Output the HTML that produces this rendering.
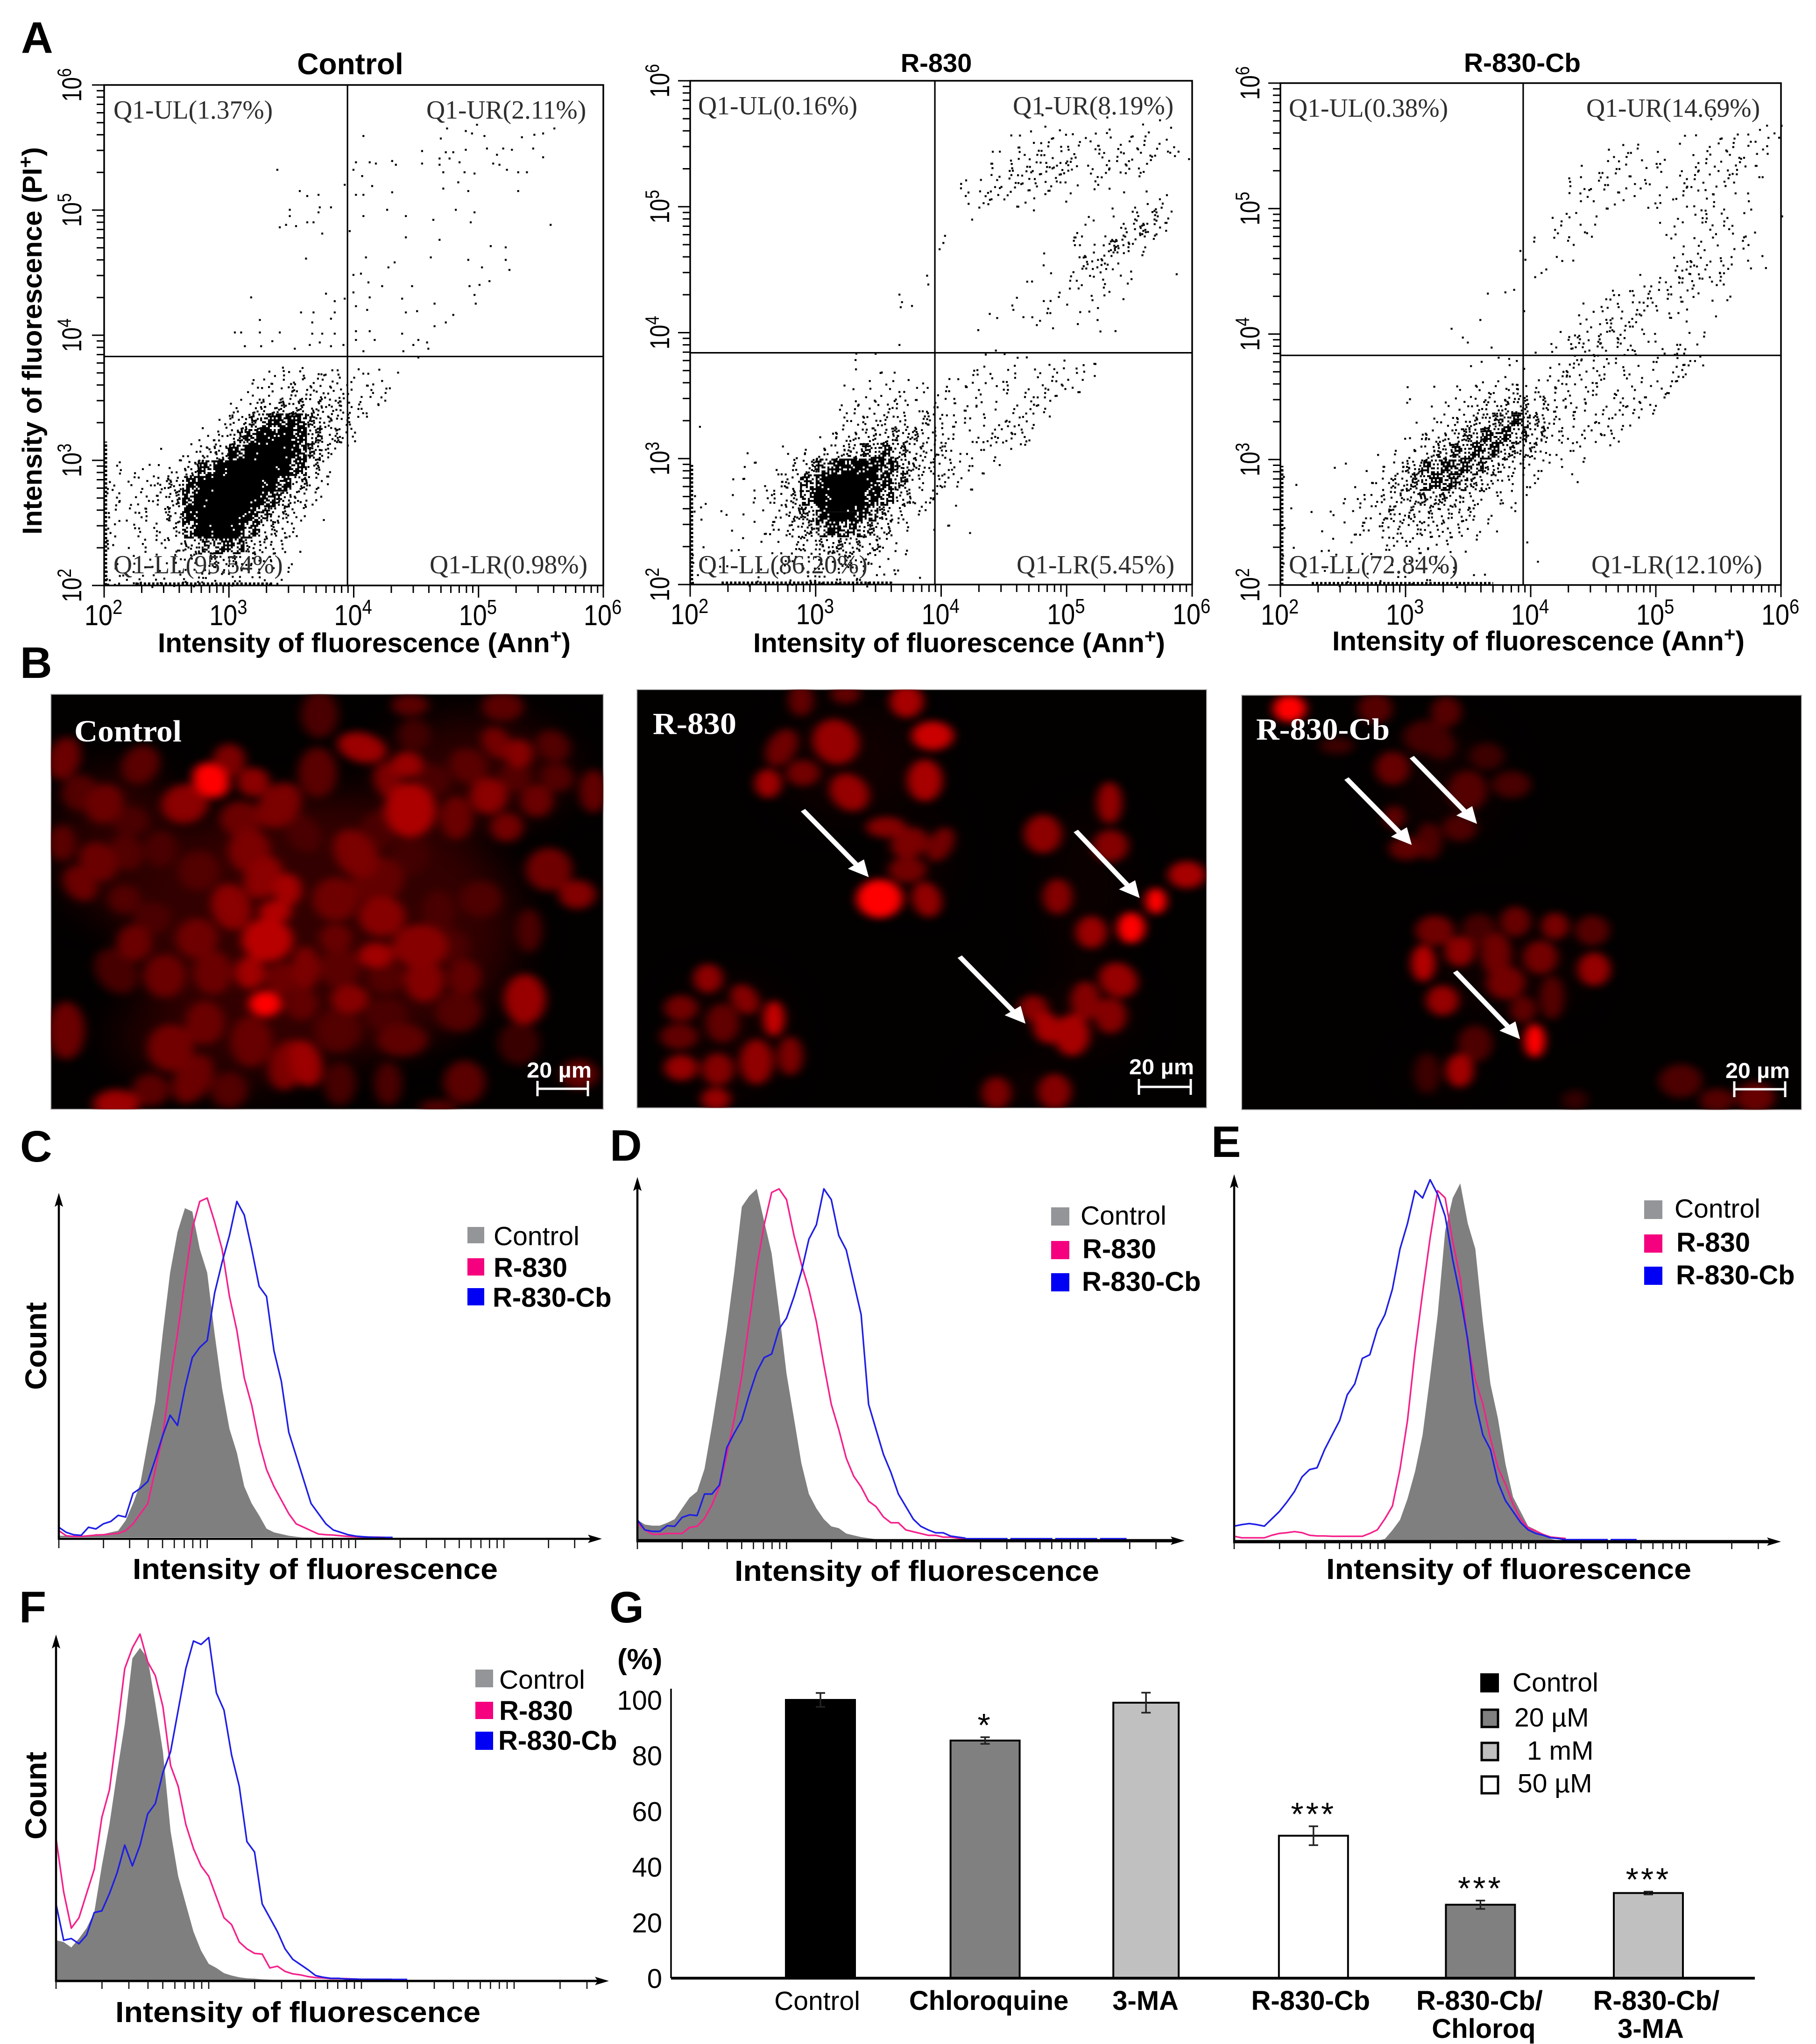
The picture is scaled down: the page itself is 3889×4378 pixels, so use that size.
<!DOCTYPE html>
<html lang="en">
<head>
<meta charset="utf-8">
<title>Flow cytometry and viability figure</title>
<style>
html,body{margin:0;padding:0;background:#fff}
svg{display:block}
text{font-family:"Liberation Sans",Arial,sans-serif}
.pl{font-size:95px;font-weight:700}
.b{font-weight:700}
.q{font-family:"Liberation Serif",serif;font-size:55.6px;fill:#2e2e2e}
.at{font-size:58px;font-weight:700}
.ht{font-size:62px;font-weight:700}
.lg{font-size:57px}
.lgb{font-size:58px;font-weight:700}
.imgl{font-family:"Liberation Serif",serif;font-weight:700;font-size:66px;fill:#fff}
.sb{font-size:46px;font-weight:700;fill:#fff}
</style>
</head>
<body>
<svg id="fig" xmlns="http://www.w3.org/2000/svg" width="3889" height="4378" viewBox="0 0 3889 4378">
<defs>
<filter id="cellBlur" x="-10%" y="-10%" width="120%" height="120%" color-interpolation-filters="sRGB"><feGaussianBlur stdDeviation="13"/></filter>
<filter id="hazeBlur" x="-60%" y="-60%" width="220%" height="220%" color-interpolation-filters="sRGB"><feGaussianBlur stdDeviation="55"/></filter>
</defs>
<rect width="3889" height="4378" fill="#fff"/>

<text class="pl" x="45" y="113">A</text>
<text class="pl" x="43" y="1452">B</text>
<text class="pl" x="43" y="2488">C</text>
<text class="pl" x="1306" y="2486">D</text>
<text class="pl" x="2594" y="2478">E</text>
<text class="pl" x="41" y="3475">F</text>
<text class="pl" x="1305" y="3475">G</text>

<g id="scatterLayer"></g>

<text class="b" x="750" y="159" font-size="64" text-anchor="middle">Control</text>
<text class="b" x="2005" y="154" font-size="56" text-anchor="middle">R-830</text>
<text class="b" x="3260" y="154" font-size="57" text-anchor="middle">R-830-Cb</text>

<text class="q" x="243" y="254">Q1-UL(1.37%)</text>
<text class="q" x="913" y="254">Q1-UR(2.11%)</text>
<text class="q" x="243" y="1228">Q1-LL(95.54%)</text>
<text class="q" x="920" y="1228">Q1-LR(0.98%)</text>
<text class="q" x="1495" y="245">Q1-UL(0.16%)</text>
<text class="q" x="2169" y="245">Q1-UR(8.19%)</text>
<text class="q" x="1495" y="1228">Q1-LL(86.20%)</text>
<text class="q" x="2177" y="1228">Q1-LR(5.45%)</text>
<text class="q" x="2760" y="250">Q1-UL(0.38%)</text>
<text class="q" x="3397" y="250">Q1-UR(14.69%)</text>
<text class="q" x="2760" y="1228">Q1-LL(72.84%)</text>
<text class="q" x="3408" y="1228">Q1-LR(12.10%)</text>

<text class="at" x="338" y="1397" textLength="884" lengthAdjust="spacingAndGlyphs">Intensity of fluorescence (Ann<tspan dy="-20" font-size="42">+</tspan><tspan dy="20">)</tspan></text>
<text class="at" x="1613" y="1397" textLength="882" lengthAdjust="spacingAndGlyphs">Intensity of fluorescence (Ann<tspan dy="-20" font-size="42">+</tspan><tspan dy="20">)</tspan></text>
<text class="at" x="2853" y="1393" textLength="883" lengthAdjust="spacingAndGlyphs">Intensity of fluorescence (Ann<tspan dy="-20" font-size="42">+</tspan><tspan dy="20">)</tspan></text>
<text class="at" transform="translate(89,1145) rotate(-90)" textLength="830" lengthAdjust="spacingAndGlyphs">Intensity of fluorescence (PI<tspan dy="-20" font-size="42">+</tspan><tspan dy="20">)</tspan></text>

<g id="microLayer"></g>
<text class="imgl" x="159" y="1588" textLength="230" lengthAdjust="spacingAndGlyphs">Control</text>
<text class="imgl" x="1398" y="1572" textLength="179" lengthAdjust="spacingAndGlyphs">R-830</text>
<text class="imgl" x="2690" y="1584" textLength="286" lengthAdjust="spacingAndGlyphs">R-830-Cb</text>
<text class="sb" x="1128" y="2308" textLength="139" lengthAdjust="spacingAndGlyphs">20 µm</text>
<text class="sb" x="2418" y="2301" textLength="139" lengthAdjust="spacingAndGlyphs">20 µm</text>
<text class="sb" x="3695" y="2309" textLength="138" lengthAdjust="spacingAndGlyphs">20 µm</text>
<path d="M1151 2315V2348M1151 2332H1259M1259 2315V2348" stroke="#fff" stroke-width="5" fill="none"/>
<path d="M2439 2311V2345M2439 2328H2550M2550 2311V2345" stroke="#fff" stroke-width="5" fill="none"/>
<path d="M3714 2316V2350M3714 2333H3823M3823 2316V2350" stroke="#fff" stroke-width="5" fill="none"/>

<g id="histLayer"></g>

<text class="ht" x="284" y="3382" textLength="782" lengthAdjust="spacingAndGlyphs">Intensity of fluorescence</text>
<text class="ht" x="1573" y="3386" textLength="781" lengthAdjust="spacingAndGlyphs">Intensity of fluorescence</text>
<text class="ht" x="2840" y="3382" textLength="782" lengthAdjust="spacingAndGlyphs">Intensity of fluorescence</text>
<text class="ht" x="247" y="4331" textLength="782" lengthAdjust="spacingAndGlyphs">Intensity of fluorescence</text>
<text class="b" font-size="64" transform="translate(99,2977) rotate(-90)" textLength="188" lengthAdjust="spacingAndGlyphs">Count</text>
<text class="b" font-size="64" transform="translate(99,3940) rotate(-90)" textLength="188" lengthAdjust="spacingAndGlyphs">Count</text>

<rect x="1001" y="2628" width="36" height="35" fill="#939598"/>
<text class="lg" x="1057" y="2667">Control</text>
<rect x="1001" y="2695" width="36" height="37" fill="#f5007e"/>
<text class="lgb" x="1057" y="2735">R-830</text>
<rect x="1001" y="2759" width="36" height="37" fill="#0000f5"/>
<text class="lgb" x="1055" y="2799">R-830-Cb</text>

<rect x="2251" y="2586" width="39" height="39" fill="#939598"/>
<text class="lg" x="2314" y="2623">Control</text>
<rect x="2251" y="2658" width="39" height="39" fill="#f5007e"/>
<text class="lgb" x="2318" y="2695">R-830</text>
<rect x="2251" y="2727" width="39" height="39" fill="#0000f5"/>
<text class="lgb" x="2317" y="2765">R-830-Cb</text>

<rect x="3521" y="2571" width="39" height="40" fill="#939598"/>
<text class="lg" x="3586" y="2608">Control</text>
<rect x="3521" y="2644" width="39" height="39" fill="#f5007e"/>
<text class="lgb" x="3590" y="2681">R-830</text>
<rect x="3521" y="2713" width="39" height="39" fill="#0000f5"/>
<text class="lgb" x="3589" y="2751">R-830-Cb</text>

<rect x="1018" y="3576" width="38" height="38" fill="#939598"/>
<text class="lg" x="1069" y="3617">Control</text>
<rect x="1018" y="3645" width="38" height="37" fill="#f5007e"/>
<text class="lgb" x="1069" y="3684">R-830</text>
<rect x="1018" y="3709" width="38" height="39" fill="#0000f5"/>
<text class="lgb" x="1067" y="3748">R-830-Cb</text>

<g id="barLayer"></g>
<text class="b" x="1322" y="3575" font-size="62">(%)</text>

<rect x="3170" y="3584" width="40" height="41" fill="#000"/>
<text class="lg" x="3239" y="3623">Control</text>
<rect x="3173" y="3662" width="35" height="37" fill="#808080" stroke="#000" stroke-width="5"/>
<text class="lg" x="3243" y="3698">20 µM</text>
<rect x="3173" y="3733" width="35" height="37" fill="#c0c0c0" stroke="#000" stroke-width="5"/>
<text class="lg" x="3270" y="3769">1 mM</text>
<rect x="3173" y="3805" width="35" height="36" fill="#fff" stroke="#000" stroke-width="5"/>
<text class="lg" x="3250" y="3839">50 µM</text>
</svg>

<script>
// ---------- Panel A data: log10 decades on both axes ----------
const decadeExponents = [2, 3, 4, 5, 6];
const minorMantissas = [2, 3, 4, 5, 6, 7, 8, 9];

const controlGate = [3.95, 3.83];
const r830Gate = [3.95, 3.84];
const r830CbGate = [3.94, 3.83];

// Events piled on the axes: [top of left-edge run in log PI, end of bottom-edge run in log Ann]
const controlEdgeRuns = [3.15, 3.35];
const r830EdgeRuns = [2.95, 3.6];
const r830CbEdgeRuns = [2.95, 3.7];

// Isolated events, [log Ann, log PI]
const controlPoints = [[3.38,5.33],[3.56,5.16],[3.62,5.12],[3.71,5.13],[3.48,5.01],[3.48,4.96],[3.40,4.87],[3.45,4.89],[3.53,4.88],[3.62,4.91],[3.67,4.91],[3.71,4.99],[3.72,5.03],[3.81,5.03],[3.74,4.82],[3.61,4.62],[3.17,4.31],[3.24,4.13],[3.04,4.03],[3.09,4.03],[3.24,4.03],[3.40,4.03],[3.34,3.96],[3.12,3.92],[3.57,4.19],[3.67,4.19],[3.66,4.11],[3.81,4.14],[3.84,4.19],[3.77,4.34],[3.84,4.28],[3.92,4.30],[3.74,4.02],[3.66,4.02],[3.84,4.02],[3.64,3.93],[3.72,3.95],[3.81,3.92],[3.91,3.93],[3.52,3.90],[3.25,3.92],[3.92,5.21],[4.07,5.6],[4.01,5.39],[4.12,5.39],[4.17,5.38],[4.30,5.40],[4.33,5.37],[3.99,5.33],[4.06,5.28],[4.14,5.2],[4.01,5.13],[4.07,5.13],[4.30,5.15],[4.07,4.96],[4.26,5.01],[4.41,4.96],[4.63,4.93],[3.96,4.84],[4.41,4.79],[4.68,4.77],[4.09,4.63],[4.32,4.59],[4.27,4.55],[4.61,4.63],[3.99,4.49],[4.05,4.5],[4.11,4.43],[4.22,4.4],[3.99,4.35],[4.12,4.31],[4.46,4.4],[4.38,4.3],[4.01,4.24],[4.10,4.21],[4.41,4.19],[4.5,4.2],[4.64,4.26],[4.79,4.17],[4.64,4.08],[4.73,4.11],[4.01,4.04],[4.12,4.04],[4.38,4.02],[4.01,3.97],[4.16,3.97],[4.51,3.97],[4.47,3.93],[4.58,3.95],[4.59,3.9],[4.39,3.88],[4.51,3.83],[4.07,3.88],[4.54,5.48],[4.54,5.38],[4.68,5.42],[4.68,5.37],[4.73,5.47],[4.79,5.47],[4.84,5.39],[4.89,5.49],[4.76,5.42],[4.88,5.31],[4.71,5.31],[4.96,5.3],[4.71,5.18],[4.83,5.23],[4.91,5.16],[4.69,5.58],[4.74,5.66],[4.89,5.64],[4.94,5.62],[4.98,5.69],[5.04,5.6],[5.06,5.5],[5.14,5.45],[5.19,5.5],[5.11,5.38],[5.16,5.37],[5.22,5.33],[5.26,5.49],[5.34,5.59],[5.44,5.61],[5.51,5.62],[5.6,5.66],[5.43,5.5],[5.31,5.31],[5.38,5.31],[5.51,5.43],[5.31,5.16],[4.81,5.01],[4.96,4.99],[4.93,4.91],[5.57,4.89],[5.09,4.72],[5.21,4.71],[4.91,4.61],[5.02,4.55],[5.21,4.61],[5.24,4.53],[5.08,4.44],[5.0,4.41],[4.92,4.4],[4.96,4.33],[4.97,4.26]];
const r830Points = [[4.01,4.72],[3.98,4.67],[3.88,4.46],[3.89,4.39],[3.66,4.31],[3.68,4.25],[3.67,4.21],[3.76,4.22],[3.66,3.91],[3.31,3.79],[3.47,3.84],[2.07,3.26],[2.45,3.05]];
const r830CbPoints = [[3.91,4.67],[3.95,4.6],[3.79,4.34],[3.86,4.36],[3.65,4.33],[3.94,4.19],[3.59,4.12],[3.36,4.05],[3.45,3.98],[3.49,3.94],[3.68,3.9],[3.82,3.81]];

// Event counts per 0.125 x 0.125 decade bin for the dense populations (rows run top to bottom)
const controlCoreBins = [
[0,0,0,0,0,0,0,0,0,2,4,5,6,6,5,3,3,3,1],
[0,0,0,0,0,0,0,0,1,3,5,7,8,8,8,6,5,4,1],
[0,0,0,0,0,0,0,1,4,8,12,18,18,14,10,8,6,3],
[0,0,0,0,0,0,1,3,10,24,38,48,46,24,14,9,2],
[0,0,0,0,0,1,3,8,24,44,58,60,50,26,12,8],
[0,0,0,1,2,4,10,22,46,62,64,62,48,26,6],
[4,1,2,3,3,16,38,58,64,64,64,60,40,12,3],
[5,3,5,8,16,42,60,64,64,64,60,44,20,6,1],
[5,3,4,6,16,46,62,64,64,62,46,26,10,3],
[5,2,6,5,14,52,64,64,62,48,28,14,4,1],
[4,2,4,5,8,36,60,64,58,32,14,6,2],
[4,2,3,4,5,14,28,38,36,16,8,4,1],
[3,1,2,2,3,6,8,14,14,8,5,2],
[6,4,5,5,5,5,5,5,5,5,3,2]];
const r830CoreBins = [
[0,0,0,0,0,0,0,0,0,0,1,0,0,0,0,0,0,0,1,2,2,1,1,1,0,2],
[0,0,0,0,0,0,0,0,0,0,1,2,2,1,0,0,2,2,3,3,3,2,2,3,5,2],
[0,0,0,0,0,0,0,0,0,1,1,1,4,3,4,1,3,4,4,2,4,3,6,6,3,0],
[0,0,0,0,0,0,0,0,0,3,4,5,5,5,4,4,4,3,3,2,2,6,5,0,0,0],
[0,0,0,0,0,0,0,0,0,3,6,6,8,8,6,10,5,3,3,3,7,5,1,0,0,0],
[0,0,0,0,0,0,0,0,2,6,10,12,14,15,14,8,5,2,4,7,7,5,0,0,0,0],
[0,0,0,0,0,1,2,3,8,12,18,28,36,22,12,8,6,3,3,2,1,0,0,0,0,0],
[0,0,0,1,2,3,8,18,32,50,56,54,44,26,12,8,7,4,2,1,0,0,0,0,0,0],
[0,0,1,2,3,6,10,32,56,64,64,58,42,26,6,6,5,3,0,0,0,0,0,0,0,0],
[3,0,1,1,3,6,14,34,60,64,64,50,34,16,4,5,1,0,0,0,0,0,0,0,0,0],
[2,1,1,1,2,5,14,24,50,64,56,34,20,6,3,0,0,0,0,0,0,0,0,0,0,0],
[0,0,1,1,2,4,10,18,34,42,32,24,10,3,0,1,2,1,0,0,0,0,0,0,0,0],
[2,0,1,1,1,3,6,8,14,22,16,12,5,2,0,0,0,0,0,0,0,0,0,0,0,0],
[2,1,1,0,1,2,4,6,8,12,10,5,3,0,0,0,0,0,0,0,0,0,0,0,0,0],
[2,0,0,1,2,2,3,4,5,5,5,3,2,2,1,0,0,0,0,0,0,0,0,0,0,0]];
const r830UpperBins = [
[0,0,0,0,0,0,2,0,0,0,1,0,1,1,1,0],
[0,0,0,0,2,2,3,3,3,4,3,3,3,2,1,0],
[0,0,0,2,4,3,5,5,4,3,4,5,5,5,5,1],
[0,0,0,4,7,7,8,8,5,4,5,6,4,1,0,0],
[0,3,2,6,6,6,5,4,2,3,1,0,0,1,0,0],
[0,3,6,3,3,2,1,1,0,0,0,1,2,2,1,0],
[0,1,0,0,0,1,0,0,0,2,2,1,6,10,4,0],
[1,0,0,0,0,0,0,0,4,1,2,6,14,6,1,0],
[0,0,0,0,0,0,1,0,3,3,10,14,4,0,0,0],
[0,0,0,0,0,0,1,0,3,10,8,2,0,0,0,0],
[0,0,0,0,0,2,1,0,4,3,3,3,0,0,1,0],
[0,0,0,0,1,0,2,2,2,2,2,1,0,0,0,0],
[0,0,0,1,2,2,3,1,1,2,0,0,0,0,0,0],
[0,0,1,1,0,1,1,1,1,2,1,0,0,0,0,0]];
const r830CbCoreBins = [
[0,0,0,0,0,0,0,0,0,0,0,0,2,1,1,1,1,2,5,6,4,3,3,2,2,6,5],
[0,0,0,0,0,0,0,0,0,0,0,0,0,1,1,1,2,4,6,5,6,4,2,1,2,8,0],
[0,0,0,0,0,0,0,0,1,1,0,2,5,5,6,7,5,5,5,4,3,4,3,3,6,0,0],
[0,0,0,0,0,0,0,0,2,1,2,4,7,8,14,16,10,6,6,4,3,6,6,5,0,0,0],
[0,0,0,0,0,0,0,0,1,2,4,8,14,22,30,30,16,7,3,3,5,4,2,0,0,0,0],
[0,0,0,0,0,0,0,1,3,7,12,20,26,36,34,24,16,6,3,3,6,3,0,0,0,0,0],
[0,0,0,0,0,0,1,2,5,12,20,30,40,36,22,12,8,3,3,2,0,0,0,0,0,0,0],
[0,0,0,1,1,1,3,8,20,32,40,40,30,18,8,5,3,2,1,0,0,0,0,0,0,0,0],
[2,0,0,0,1,2,6,10,24,34,38,28,18,7,5,2,2,0,1,0,0,0,0,0,0,0,0],
[1,0,0,1,3,4,8,10,16,18,20,10,6,4,3,1,0,0,0,0,0,0,0,0,0,0,0],
[0,1,0,2,3,4,8,10,12,10,10,8,4,2,1,0,0,0,0,0,0,0,0,0,0,0,0],
[1,0,1,1,2,4,6,6,8,7,6,5,2,2,0,0,0,0,0,0,0,0,0,0,0,0,0],
[2,0,1,1,1,2,3,4,4,3,3,1,1,0,0,1,0,0,0,0,0,0,0,0,0,0,0],
[1,0,0,1,1,0,1,1,2,2,1,0,0,0,0,0,1,0,0,0,0,0,0,0,0,0,0],
[0,0,1,1,2,1,1,2,2,2,1,1,1,1,0,0,0,0,0,0,0,0,0,0,0,0,0]];
const r830CbUpperBins = [
[0,0,0,0,0,0,0,0,0,0,0,1,0,0,1,2],
[0,0,0,0,0,1,1,0,0,2,1,3,3,3,3,3],
[0,0,0,0,2,3,3,2,2,0,2,3,5,4,3,0],
[0,0,0,2,4,4,2,1,3,3,4,4,4,4,4,0],
[0,0,4,4,4,2,3,3,2,4,4,3,3,2,0,0],
[0,0,0,3,2,2,1,3,2,3,1,4,1,1,0,0],
[0,2,3,2,1,0,0,0,1,2,4,5,4,2,0,1],
[1,4,2,3,0,0,0,0,2,2,2,3,3,3,1,0],
[1,1,1,0,0,0,0,0,0,3,3,1,2,2,1,0],
[2,1,1,0,0,0,0,0,0,5,6,5,5,2,1,0],
[1,0,0,0,0,0,1,2,4,6,7,4,3,0,0,0],
[0,0,0,1,1,4,5,6,5,4,2,1,2,0,0,0],
[0,0,0,2,3,5,5,4,3,2,0,1,0,0,0,0],
[0,1,0,4,7,7,4,3,0,2,1,0,0,0,0,0],
[0,3,9,6,8,6,3,2,1,4,2,0,0,0,0,0]];

// ---------- Panels C-F data: log10 intensity bins and counts (% of tallest peak) ----------
const histBins = [0,.05,.1,.15,.2,.25,.3,.35,.4,.45,.5,.55,.6,.65,.7,.75,.8,.85,.9,.95,1,1.05,1.1,1.15,1.2,1.25,1.3,1.35,1.4,1.45,1.5,1.55,1.6,1.65,1.7,1.75,1.8,1.85,1.9,1.95,2,2.05,2.1,2.15,2.2];
const histTickDecades = [0, 1, 2];
const histTickExtra = [1000, 2000, 3000];

const cControl = [.5,.5,.5,.5,.5,1,1,1.5,2,5,10,16,28,40,60,78,90,97,96,85,78,60,44,32,25,15,10,6.5,2.6,1.5,1,.5,.2,0];
const cR830 = [2,.5,.3,.3,.5,.7,.8,1,1.2,2,4,7,10,20,30,46,60,76,91,99,100,93,85,71,61,47,39,28,20,15,11,7,4,3,2,1,.8,.7,.5,.3,.2,.1,.1,.1,0];
const cR830Cb = [3,1.5,.8,.6,3,2.5,4,4.7,6.5,6,13,14.5,16.5,23,30,36,33,44,53,56,58,72,81,89,99,95,85,74,71,55,46,31,24,17,10,7,4,2.2,1.5,.8,.4,.2,.1,0,0];
const cTailEnd = 2.25;

const dControl = [5.8,4.5,4.2,4.2,5,6,9,12,13.7,20,32,45,59,75,93,96,98,89,80,64,46.5,34,21.5,13,9,6,4,3.5,2,1.5,1,.7,.4,.3,.3,.2,.1,0];
const dR830 = [5,3,1.8,1.8,2,2,2,3.7,4,6.2,10,15,24,34,46,61,76,88,97,98,95,85,77,70,61,49,38,31,23,18,15,11,9.5,6.6,5,5,3,2.5,2,1.5,1.5,1,1,.7,.5];
const dR830Cb = [5.8,3,2.6,2.6,4.2,4,6.5,7.2,7,13,13,15.5,26,30,33.6,40.7,47,51,52,59,62,68,75,84,88,98,95,85,81,72,63,38,31,24,19,13,9.5,6,4,3,2.2,2.2,1.3,1,.7];
const dTailEnd = 3.28;

const eControl = [0,0,0,0,0,0,0,0,0,0,0,0,0,0,0,0,0,0,0,0,.5,2.9,5.7,11.5,19,29,45,62,85,94,98,87,80,60,43,33.5,21,12,8,4,3,1.6,.5,0];
const eR830 = [1.2,.8,.8,.8,.8,1.5,2,2.2,2.5,2.2,1.5,1.3,1.3,1.2,1.2,1.2,1.2,1.2,2,3,6,9.5,19.6,33,52,68,83,96,94,82,72,54,44,37.5,28,20,15.5,10,6,3.5,2.7,1.7,1,.8,.6];
const eR830Cb = [4,4.4,4.7,4.4,4,6,8,10.6,13.5,17.5,19.5,20,25,29,33,40,43,50,51,58,62,69,80,87,96,94,99,95,89,77,67,55,38,29,25,16,11,8,5,3,2,1.5,.8,.6,.3];
const eTailEnd = 2.67;

const fControl = [11.5,11,9.4,12,15,19.5,33,45,60,74,93,96,93,80,66,43,30,22,14,8.5,4.7,3.5,2,1.3,.8,.5,.4,.2,.1,0];
const fR830 = [41,25.5,15,18,25,32,47,55,72,90,96,100,92,88,79,62,56,45,38,33,30,24,18,16,11,9,7.7,7.5,3.5,4,2.5,1.8,1.5,1,.7,.6,.4,.4,.4,.3,.2,.2,.2,.1,.1];
const fR830Cb = [22,11.5,12,10.5,13,19.5,20,25,31,39,33,39,48,51,60,66,78,90,98,97,99,83,78,65,56,40,37,22,18,14,9,6,4.5,3,1.3,.8,.5,.5,.3,.3,.2,.2,.2,.2,.2];
const fTailEnd = 2.3;

// ---------- Panel G data ----------
const barCategories = ["Control", "Chloroquine", "3-MA", "R-830-Cb", "R-830-Cb/", "R-830-Cb/"];
const barCategoriesLine2 = ["", "", "", "", "Chloroq", "3-MA"];
const barValues = [100, 85.4, 99, 51.2, 26.4, 30.6];
const barErrors = [2.5, 1.2, 3.6, 3.4, 1.5, 0.5];
const barSignificance = ["", "*", "", "***", "***", "***"];
const barFills = ["#000000", "#808080", "#c0c0c0", "#ffffff", "#808080", "#c0c0c0"];
const barTickValues = [0, 20, 40, 60, 80, 100];

// ---------- Panel B image content: blurred nuclei, [cx, cy, rx, ry, rotation, red level] ----------
const controlCells = [[160,410,35,60,10,130],[350,430,40,55,15,110],[570,415,35,45,0,150],[525,480,38,50,-20,255],[630,485,35,40,0,170],[200,520,40,50,0,100],[260,555,40,55,10,130],[460,555,50,55,20,170],[695,560,45,65,20,150],[795,270,40,65,0,90],[790,455,42,70,0,110],[900,375,55,40,25,190],[965,480,30,50,-10,150],[1012,430,35,35,0,185],[1020,240,40,30,0,110],[1250,245,45,40,0,110],[1030,335,35,45,0,80],[1235,360,30,45,-20,140],[1290,395,30,40,0,165],[1375,370,35,45,-20,100],[1165,435,40,50,-20,110],[1075,480,40,45,0,90],[1215,530,40,50,0,170],[1335,545,35,45,0,130],[1280,470,35,40,0,100],[1385,470,35,40,-20,100],[1475,515,30,60,0,120],[1020,575,55,75,0,210],[1135,600,35,60,0,130],[1260,630,35,40,0,140],[940,640,40,60,20,90],[600,605,45,50,-20,130],[325,610,40,40,0,90],[755,650,35,55,-20,90],[155,680,30,50,0,110],[245,740,40,55,-15,130],[315,710,35,50,-10,100],[400,700,35,50,0,90],[620,705,45,60,0,150],[885,715,45,70,-20,150],[1020,720,40,55,0,80],[495,770,45,55,0,100],[655,790,40,60,15,170],[715,830,30,45,0,200],[200,810,35,50,-20,130],[310,860,35,40,0,100],[940,800,55,65,20,120],[1365,765,50,60,0,135],[1435,845,40,40,-10,160],[575,885,42,65,-10,170],[835,860,50,60,0,135],[950,915,50,55,0,165],[1195,860,45,50,0,95],[1090,900,35,60,0,90],[685,900,35,30,0,215],[380,920,40,45,0,90],[665,990,55,60,0,225],[335,1000,38,50,0,130],[490,985,45,55,0,135],[835,985,35,40,0,125],[1045,1010,60,60,0,165],[1315,960,28,60,0,90],[1120,1010,40,50,0,90],[290,1090,45,65,-20,85],[935,1040,38,35,0,195],[410,1105,45,60,0,130],[530,1095,42,60,0,130],[622,1095,32,45,0,195],[760,1080,30,60,0,150],[700,1115,35,45,0,130],[845,1080,45,55,0,110],[960,1110,40,45,0,100],[1055,1120,42,60,0,160],[1155,1110,35,50,0,120],[660,1195,35,35,-20,255],[750,1195,35,45,0,120],[870,1180,40,40,0,165],[960,1230,45,45,0,90],[1140,1220,50,55,0,100],[1305,1180,45,70,0,185],[165,1280,40,80,0,130],[510,1255,42,60,0,130],[625,1315,45,70,0,125],[840,1280,50,60,0,100],[1000,1310,55,45,0,115],[1290,1320,45,60,0,70],[425,1335,50,65,0,140],[715,1390,40,70,10,150],[760,1385,35,65,-10,190],[480,1435,40,70,20,130],[375,1470,40,45,0,110],[570,1470,40,50,0,100],[845,1450,35,60,0,85],[1155,1445,45,60,0,110],[965,1450,30,60,0,90],[290,1515,50,40,0,190],[1440,1420,40,40,0,120],[1090,1525,40,20,0,100]];
const controlHaze = [[800,950,480,420,0,50],[1180,450,230,170,0,42],[300,680,150,240,0,42],[560,1300,260,170,0,38]];
const r830Cells = [[465,155,30,50,0,110],[580,135,35,30,0,110],[738,160,40,50,0,190],[555,295,55,70,-10,170],[805,275,50,45,0,230],[415,315,35,60,20,125],[470,400,40,40,0,130],[380,435,32,45,0,180],[590,465,45,60,-20,170],[785,425,42,65,0,190],[685,582,48,32,0,150],[745,635,42,50,30,140],[825,640,30,55,20,130],[740,725,45,40,0,130],[668,822,55,60,0,255],[790,825,35,55,-10,165],[1090,605,45,60,0,160],[1262,500,30,65,0,165],[1265,645,42,50,0,150],[1128,815,35,55,0,150],[1215,935,37,50,0,175],[1318,920,33,48,0,255],[1382,830,25,40,0,255],[1462,742,45,42,0,190],[1285,1095,45,55,-20,170],[1200,1165,35,60,0,150],[1265,1215,38,55,0,150],[1065,1190,35,40,0,155],[1100,1255,32,50,-10,190],[1165,1280,42,65,0,190],[225,1090,35,45,0,160],[320,1160,32,48,-20,150],[155,1190,40,40,0,130],[395,1225,25,55,0,225],[262,1240,40,60,0,110],[150,1285,45,40,0,110],[350,1370,40,70,0,165],[155,1390,40,40,0,170],[250,1395,38,50,0,150],[437,1350,30,60,0,140],[245,1495,35,35,0,170],[970,1475,35,50,0,140],[1120,1470,40,55,0,150]];
const r830Haze = [[600,360,180,190,0,16],[770,680,60,150,0,16],[1200,800,90,280,0,12],[1190,1210,120,120,0,16],[280,1280,130,190,0,16],[1050,1450,110,60,0,14]];
const r830CbCells = [[197,185,38,40,0,255],[420,185,40,45,0,100],[605,195,35,45,0,100],[555,280,55,50,0,80],[590,310,35,40,0,80],[320,310,40,25,0,70],[465,385,40,50,0,120],[710,345,40,40,0,70],[775,440,45,40,0,85],[660,460,45,60,0,100],[470,550,25,35,0,110],[640,585,40,40,0,90],[560,630,30,55,0,90],[500,655,40,35,0,110],[575,930,45,45,0,130],[785,900,35,45,0,120],[888,915,32,40,0,140],[985,930,40,45,0,100],[690,930,40,50,0,80],[640,1000,35,45,0,165],[545,1040,28,55,0,210],[735,1010,35,65,0,130],[850,1020,40,50,0,135],[990,1060,38,50,0,175],[760,1105,45,50,0,135],[595,1165,38,45,0,175],[805,1195,30,40,0,110],[880,1155,28,65,0,100],[680,1310,40,55,0,90],[835,1300,24,50,0,255],[640,1400,32,50,0,190],[555,1410,30,60,0,70],[1215,1435,50,50,0,90],[1310,1500,40,35,0,100],[1410,1490,45,45,0,120],[940,1500,30,30,0,60]];
const r830CbHaze = [[600,430,130,190,0,14],[760,1060,180,160,0,14],[590,1420,60,60,0,12]];

// ---------- Drawing ----------
const NS = 'http://www.w3.org/2000/svg';
function mk(tag, attrs, parent) {
  const el = document.createElementNS(NS, tag);
  for (const k in attrs) el.setAttribute(k, attrs[k]);
  parent.appendChild(el);
  return el;
}
function logScale(originPx, originVal, pxPerDecade) {
  return v => originPx + (v - originVal) * pxPerDecade;
}
function frac(v) { return v - Math.floor(v); }

const DOT = 4.2, LATTICE = 8, BIN = 0.125;
// Places a bin's dots on a fixed 8x8 lattice using a permutation of its 64 sites;
// sparse bins get a fixed offset so they do not line up in columns.
function binDots(bins, xStart, yTop, sx, sy) {
  let d = '';
  bins.forEach((row, r) => row.forEach((n, c) => {
    const left = sx(xStart + c * BIN), right = sx(xStart + (c + 1) * BIN);
    const top = sy(yTop - r * BIN), bottom = sy(yTop - (r + 1) * BIN);
    const pw = (right - left) / LATTICE, ph = (bottom - top) / LATTICE;
    const count = Math.min(64, Math.max(0, Math.round(n)));
    const loose = Math.max(0, 1 - count / 32);
    for (let k = 0; k < count; k++) {
      const q = k + c * 13 + r * 29;
      const u = ((6 * q * q + 5 * q) % 64 + 64) % 64;
      const jx = frac(q * 0.7549) * pw * 2 * loose, jy = frac(q * 0.5698) * ph * 2 * loose;
      const px = left + (u >> 3) * pw + jx, py = top + (u & 7) * ph + jy;
      d += 'M' + px.toFixed(1) + ' ' + py.toFixed(1) + 'h' + DOT + 'v' + DOT + 'h-' + DOT + 'z';
    }
  }));
  return d;
}

function drawScatter(cfg) {
  const g = mk('g', {}, document.getElementById('scatterLayer'));
  
  
  const sx = logScale(cfg.x0, 2, cfg.xDec), sy = logScale(cfg.y0, 2, -cfg.yDec);
  const right = sx(6), top = sy(6);

  let d = '';
  cfg.binSets.forEach(b => { d += binDots(b.bins, b.xStart, b.yTop, sx, sy); });
  cfg.points.forEach(p => {
    d += 'M' + sx(p[0]).toFixed(1) + ' ' + sy(p[1]).toFixed(1) + 'h' + DOT + 'v' + DOT + 'h-' + DOT + 'z';
  });
  const dots = mk('path', { d: d, fill: '#000' }, g);
  
  

  const edge = mk('path', { d: 'M' + (cfg.x0 + 4) + ' ' + sy(2) + 'V' + sy(cfg.edges[0]) + 'M' + sx(2.25) + ' ' + (cfg.y0 - 4) + 'H' + sx(cfg.edges[1]), stroke: '#000', 'stroke-width': 5, 'stroke-dasharray': '5 4', fill: 'none' }, g);
  
  

  const frame = mk('rect', { x: cfg.x0, y: top, width: right - cfg.x0, height: cfg.y0 - top, fill: 'none', stroke: '#000', 'stroke-width': 3.5 }, g);
  
  

  const vGate = mk('line', { x1: sx(cfg.gate[0]), x2: sx(cfg.gate[0]), y1: top, y2: cfg.y0, stroke: '#000', 'stroke-width': 3.2 }, g);
  
  
  const hGate = mk('line', { x1: cfg.x0, x2: right, y1: sy(cfg.gate[1]), y2: sy(cfg.gate[1]), stroke: '#000', 'stroke-width': 3.2 }, g);
  
  

  let ticks = '';
  decadeExponents.forEach((e, i) => {
    ticks += 'M' + sx(e) + ' ' + cfg.y0 + 'v26M' + cfg.x0 + ' ' + sy(e) + 'h-26';
    if (i < decadeExponents.length - 1) minorMantissas.forEach(m => {
      const v = e + Math.log10(m);
      ticks += 'M' + sx(v).toFixed(1) + ' ' + cfg.y0 + 'v16M' + cfg.x0 + ' ' + sy(v).toFixed(1) + 'h-16';
    });
  });
  const tk = mk('path', { d: ticks, stroke: '#000', 'stroke-width': 3, fill: 'none' }, g);
  
  

  decadeExponents.forEach(e => {
    const xt = mk('text', { 'font-size': 62, transform: 'translate(' + (sx(e) - 42) + ',' + (cfg.y0 + 85) + ') scale(.87,1)' }, g);
    
    
    xt.textContent = '10';
    const xs = mk('tspan', { dy: -24, 'font-size': 44 }, xt);
    xs.textContent = e;

    const yt = mk('text', { 'text-anchor': 'middle', 'font-size': 58, transform: 'translate(' + cfg.yLabelX + ',' + sy(e) + ') rotate(-90) scale(.82,1)' }, g);
    
    
    yt.textContent = '10';
    const ys = mk('tspan', { dy: -22, 'font-size': 42 }, yt);
    ys.textContent = e;
  });
}

drawScatter({ name: 'control', x0: 223, xDec: 267.25, y0: 1254, yDec: 268, yLabelX: 174, gate: controlGate, points: controlPoints, edges: controlEdgeRuns,
  binSets: [{ bins: controlCoreBins, xStart: 2, yTop: 3.75 }] });
drawScatter({ name: 'r830', x0: 1478, xDec: 268.75, y0: 1252, yDec: 269.75, yLabelX: 1433, gate: r830Gate, points: r830Points, edges: r830EdgeRuns,
  binSets: [{ bins: r830CoreBins, xStart: 2, yTop: 3.875 }, { bins: r830UpperBins, xStart: 4, yTop: 5.75 }] });
drawScatter({ name: 'r830-cb', x0: 2742, xDec: 268, y0: 1253, yDec: 268.75, yLabelX: 2697, gate: r830CbGate, points: r830CbPoints, edges: r830CbEdgeRuns,
  binSets: [{ bins: r830CbCoreBins, xStart: 2, yTop: 3.875 }, { bins: r830CbUpperBins, xStart: 4, yTop: 5.75 }] });

// Histograms
function drawHist(cfg) {
  const g = mk('g', {}, document.getElementById('histLayer'));
  
  
  const sx = v => cfg.x0 + v * cfg.dec;
  const sy = v => cfg.base - v / 100 * cfg.height;

  let area = 'M' + sx(histBins[0]) + ' ' + cfg.base;
  cfg.control.forEach((v, i) => { area += 'L' + sx(histBins[i]).toFixed(1) + ' ' + sy(v).toFixed(1); });
  area += 'L' + sx(histBins[cfg.control.length - 1]).toFixed(1) + ' ' + cfg.base + 'Z';
  const a = mk('path', { d: area, fill: '#7f7f7f' }, g);
  
  

  const pinkPts = cfg.pink.map((v, i) => sx(histBins[i]).toFixed(1) + ',' + sy(v).toFixed(1)).join(' ');
  const pink = mk('polyline', { points: pinkPts, fill: 'none', stroke: '#f5208a', 'stroke-width': 3.4, 'stroke-linejoin': 'round' }, g);
  
  

  const bluePts = cfg.blue.map((v, i) => sx(histBins[i]).toFixed(1) + ',' + sy(v).toFixed(1)).join(' ');
  const blue = mk('polyline', { points: bluePts, fill: 'none', stroke: '#1e1ee6', 'stroke-width': 3.4, 'stroke-linejoin': 'round' }, g);
  
  

  const axisY = cfg.axisY;
  const xAxis = mk('line', { x1: cfg.x0, x2: cfg.right - 20, y1: axisY, y2: axisY, stroke: '#000', 'stroke-width': cfg.axisW }, g);
  
  

  const tail = mk('line', { x1: sx(histBins[histBins.length - 1]), x2: sx(cfg.tailEnd), y1: axisY - cfg.axisW / 2 - 1, y2: axisY - cfg.axisW / 2 - 1, stroke: '#1e1ee6', 'stroke-width': 3, 'stroke-dasharray': '90 6' }, g);
  
  

  const yAxis = mk('line', { x1: cfg.x0, x2: cfg.x0, y1: cfg.top + 20, y2: axisY + cfg.axisW / 2, stroke: '#000', 'stroke-width': 4.5 }, g);
  
  
  const headX = mk('path', { d: 'M' + cfg.right + ' ' + axisY + 'l-30 -9l6 9l-6 9z', fill: '#000' }, g);
  
  
  const headY = mk('path', { d: 'M' + cfg.x0 + ' ' + cfg.top + 'l-9 30l9 -6l9 6z', fill: '#000' }, g);
  
  

  let t = '';
  histTickDecades.forEach(dec => [1, ...minorMantissas].forEach(m => {
    t += 'M' + sx(dec + Math.log10(m)).toFixed(1) + ' ' + axisY + 'v' + cfg.tick;
  }));
  histTickExtra.forEach(v => { t += 'M' + sx(Math.log10(v)).toFixed(1) + ' ' + axisY + 'v' + cfg.tick; });
  const tk = mk('path', { d: t, stroke: '#111', 'stroke-width': 2.6, fill: 'none' }, g);
  
  
}
drawHist({ name: 'c', x0: 126, dec: 317.7, base: 3293, height: 727, axisY: 3296, axisW: 4.5, top: 2555, right: 1289, tick: 20, control: cControl, pink: cR830, blue: cR830Cb, tailEnd: cTailEnd });
drawHist({ name: 'd', x0: 1365, dec: 319.4, base: 3300, height: 769, axisY: 3300, axisW: 7, top: 2521, right: 2537, tick: 18, control: dControl, pink: dR830, blue: dR830Cb, tailEnd: dTailEnd });
drawHist({ name: 'e', x0: 2643, dec: 322.8, base: 3300, height: 781, axisY: 3302, axisW: 7, top: 2515, right: 3814, tick: 16, control: eControl, pink: eR830, blue: eR830Cb, tailEnd: eTailEnd });
drawHist({ name: 'f', x0: 120, dec: 327, base: 4241, height: 741, axisY: 4243, axisW: 5, top: 3501, right: 1304, tick: 17, control: fControl, pink: fR830, blue: fR830Cb, tailEnd: fTailEnd });

// Bar chart
const barG = document.getElementById('barLayer');
const barY = v => 4237 - v * 5.96;
const barCenter = i => 1757 + i * 354.6;
const barNudge = i => [0, -2, -12, -8, -5, 0][i];
const labelNudge = i => [-7, 6, -13, -14, -7, 17][i];
const label2Nudge = i => [0, 0, 0, 0, 2, 5][i];
barValues.forEach((v, i) => {
  const cx = barCenter(i) + barNudge(i);
  const w = i === 2 ? 140 : 148;
  const bar = mk('rect', { x: cx - w / 2, y: barY(v), width: w, height: barY(0) - barY(v), fill: barFills[i], stroke: '#000', 'stroke-width': 4 }, barG);
  
  

  const e = barErrors[i];
  const err = mk('path', { d: 'M' + cx + ' ' + barY(v + e) + 'V' + barY(v - e) + 'M' + (cx - 10) + ' ' + barY(v + e) + 'h20M' + (cx - 10) + ' ' + barY(v - e) + 'h20', stroke: '#222', 'stroke-width': 3.5, fill: 'none' }, barG);
  
  

  if (barSignificance[i]) {
    const s = mk('text', { x: cx, y: barY(v + e) - 2, 'text-anchor': 'middle', 'font-size': 70, 'letter-spacing': 5 }, barG);
    
    
    s.textContent = barSignificance[i];
  }
  const lab = mk('text', { x: barCenter(i) + labelNudge(i), y: 4305, 'text-anchor': 'middle', 'font-size': i === 0 ? 57 : 58, 'font-weight': i === 0 ? 400 : 700 }, barG);
  
  
  lab.textContent = barCategories[i];
  if (barCategoriesLine2[i]) {
    const lab2 = mk('text', { x: barCenter(i) + label2Nudge(i), y: 4365, 'text-anchor': 'middle', 'font-size': 58, 'font-weight': 700 }, barG);
    
    
    lab2.textContent = barCategoriesLine2[i];
  }
});
const gYAxis = mk('line', { x1: 1437, x2: 1437, y1: 3617, y2: 4237, stroke: '#000', 'stroke-width': 3.5 }, barG);


const gXAxis = mk('line', { x1: 1437, x2: 3758, y1: 4237, y2: 4237, stroke: '#000', 'stroke-width': 6 }, barG);


barTickValues.forEach(v => {
  const t = mk('text', { x: 1418, y: barY(v) + 21, 'text-anchor': 'end', 'font-size': 58 }, barG);
  
  
  t.textContent = v;
});

// Microscopy panels
function drawMicro(cfg) {
  const layer = document.getElementById('microLayer');
  const frame = mk('rect', { x: cfg.px, y: cfg.py, width: cfg.pw, height: cfg.ph, fill: '#030000', stroke: '#b5b5b5', 'stroke-width': 2 }, layer);
  
  
  const svg = mk('svg', { x: cfg.px, y: cfg.py, width: cfg.pw, height: cfg.ph, viewBox: cfg.vx + ' ' + cfg.vy + ' ' + cfg.vw + ' ' + cfg.vh, preserveAspectRatio: 'none' }, layer);
  
  
  const groups = [[cfg.haze, 'url(#hazeBlur)', 'cell-haze-', 1, 1], [cfg.cells, 'url(#cellBlur)', 'cell-nuclei-', cfg.grow, cfg.gain]];
  groups.forEach(spec => {
    const g = mk('g', { filter: spec[1] }, svg);
    
    
    spec[0].forEach(c => {
      const level = c[5] >= 240 ? c[5] : Math.round(c[5] * spec[4]);
      const e = mk('ellipse', { cx: c[0], cy: c[1], rx: c[2] * spec[3], ry: c[3] * spec[3], transform: 'rotate(' + c[4] + ' ' + c[0] + ' ' + c[1] + ')', fill: 'rgb(' + level + ',0,0)', style: 'mix-blend-mode:lighten' }, g);
      
      
    });
  });
  cfg.arrows.forEach(a => {
    const dx = a[2] - a[0], dy = a[3] - a[1], len = Math.hypot(dx, dy), ux = dx / len, uy = dy / len;
    const bx = a[2] - ux * 55, by = a[3] - uy * 55;
    const shaft = mk('line', { x1: a[0], y1: a[1], x2: bx, y2: by, stroke: '#fff', 'stroke-width': 14 }, svg);
    
    
    const head = mk('polygon', { points: a[2] + ',' + a[3] + ' ' + (bx - uy * 26) + ',' + (by + ux * 26) + ' ' + (bx + uy * 26) + ',' + (by - ux * 26), fill: '#fff' }, svg);
    
    
  });
}
drawMicro({ name: 'control', px: 109, py: 1487, pw: 1183, ph: 889, vx: 127, vy: 205, vw: 1373, vh: 1327, grow: 1.15, gain: 0.82, cells: controlCells, haze: controlHaze, arrows: [] });
drawMicro({ name: 'r830', px: 1364, py: 1477, pw: 1220, ph: 896, vx: 41, vy: 120, vw: 1472, vh: 1405, grow: 1.08, gain: 0.88, cells: r830Cells, haze: r830Haze,
  arrows: [[470,525,640,750],[1175,595,1340,820],[875,1017,1045,1242]] });
drawMicro({ name: 'r830-cb', px: 2659, py: 1489, pw: 1199, ph: 888, vx: 72, vy: 140, vw: 1458, vh: 1392, grow: 1.12, gain: 0.85, cells: r830CbCells, haze: r830CbHaze,
  arrows: [[345,420,515,643],[515,348,685,572],[628,1068,797,1295]] });
</script>
</body>
</html>
